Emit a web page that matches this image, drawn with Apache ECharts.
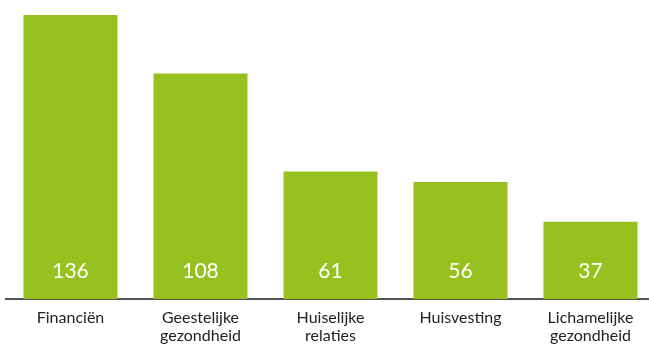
<!DOCTYPE html>
<html>
<head>
<meta charset="utf-8">
<style>
  html, body { margin: 0; padding: 0; background: #fff; overflow: hidden; }
  #chart { width: 656px; height: 345px; }
</style>
<script src="https://cdn.jsdelivr.net/npm/echarts@6/dist/echarts.min.js"></script>
</head>
<body>
<div id="chart"></div>
<script>
// Aantal meldingen per levensdomein
const categories = ['Financiën', 'Geestelijke\ngezondheid', 'Huiselijke\nrelaties', 'Huisvesting', 'Lichamelijke\ngezondheid'];
const values = [136, 108, 61, 56, 37];

const chart = echarts.init(document.getElementById('chart'), null, { renderer: 'canvas' });
chart.setOption({
  animation: false,
  grid: { left: 5.5, top: 15, right: 0.5, bottom: 44, containLabel: false },
  xAxis: {
    type: 'category',
    data: categories,
    axisLine: { show: true, lineStyle: { color: '#1a1a1a', width: 1.5 } },
    axisTick: { show: false },
    axisLabel: {
      color: '#222',
      fontFamily: 'Lato',
      fontSize: 16,
      lineHeight: 18,
      margin: 10,
      interval: 0
    }
  },
  yAxis: {
    type: 'value',
    min: 0,
    max: 136,
    show: false,
    splitLine: { show: false }
  },
  series: [{
    type: 'bar',
    data: values,
    barWidth: 94,
    itemStyle: { color: '#96c11f' },
    label: {
      show: true,
      position: 'insideBottom',
      distance: 17,
      color: '#fff',
      fontFamily: 'Lato',
      fontSize: 21
    }
  }]
});
</script>
</body>
</html>
